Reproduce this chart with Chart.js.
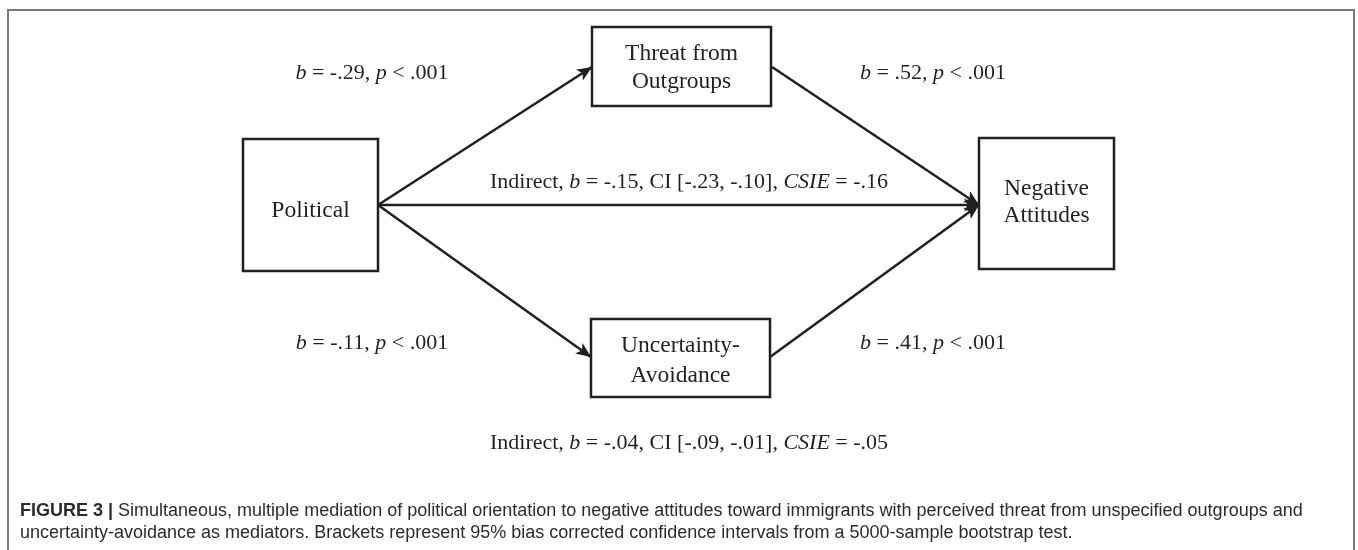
<!DOCTYPE html>
<html>
<head>
<meta charset="utf-8">
<script src="https://cdn.jsdelivr.net/npm/chart.js@4.4.1/dist/chart.umd.min.js"></script>
<style>
  body { margin: 0; background: #fff; }
  #wrap { width: 1358px; height: 550px; }
</style>
</head>
<body>
<div id="wrap"><canvas id="chart"></canvas></div>
<script>
// model values
const nodeNames = [['Political'], ['Threat from', 'Outgroups'], ['Uncertainty-', 'Avoidance'], ['Negative', 'Attitudes']];
const pathFrom = [0, 1, 0, 2, 0];
const pathTo = [1, 3, 2, 3, 3];
const pathB = [-0.29, 0.52, -0.11, 0.41];
const pathP = [0.001, 0.001, 0.001, 0.001];
const indirectB = [-0.15, -0.04];
const indirectLow = [-0.23, -0.09];
const indirectHigh = [-0.10, -0.01];
const indirectCSIE = [-0.16, -0.05];

const captionBold = 'FIGURE 3 |';
const captionLines = [
  ' Simultaneous, multiple mediation of political orientation to negative attitudes toward immigrants with perceived threat from unspecified outgroups and',
  'uncertainty-avoidance as mediators. Brackets represent 95% bias corrected confidence intervals from a 5000-sample bootstrap test.'
];

// layout (diagram units = pixels of the picture)
const boxes = [
  { x0: 243, x1: 378, y0: 139, y1: 271, lines: [217] },
  { x0: 592, x1: 771, y0: 27, y1: 106, lines: [60, 88] },
  { x0: 591, x1: 770, y0: 319, y1: 397, lines: [352, 382] },
  { x0: 979, x1: 1114, y0: 138, y1: 269, lines: [195, 222] }
];
const ends = [
  [[378, 205], [592, 67]],
  [[772, 67], [979, 205]],
  [[378, 205], [591, 357]],
  [[770, 357], [979, 205]],
  [[378, 205], [979, 205]]
];
const coefPos = [[372, 79], [933, 79], [372, 349], [933, 349]];
const indirectPos = [[689, 188], [689, 449]];

const ink = '#231f20';

function fmt(v) {
  const s = Math.abs(v).toFixed(2).replace(/^0/, '');
  return (v < 0 ? '-' : '') + s;
}
function fmtP(p) {
  return p.toFixed(3).replace(/^0/, '');
}

const datasets = [];
boxes.forEach((b, i) => {
  datasets.push({
    label: nodeNames[i].join(' '),
    data: [{x: b.x0, y: b.y0}, {x: b.x1, y: b.y0}, {x: b.x1, y: b.y1}, {x: b.x0, y: b.y1}, {x: b.x0, y: b.y0}, {x: b.x1, y: b.y0}],
    borderColor: ink, borderWidth: 2.5, pointRadius: 0, showLine: true, fill: false, tension: 0,
    borderJoinStyle: 'miter'
  });
});
pathFrom.forEach((f, i) => {
  const e = ends[i];
  datasets.push({
    label: 'path' + i,
    arrow: true,
    data: [{x: e[0][0], y: e[0][1]}, {x: e[1][0], y: e[1][1]}],
    borderColor: ink, borderWidth: 2.5, pointRadius: 0, showLine: true, fill: false
  });
});

function drawRich(ctx, parts, cx, y, size) {
  const font = it => (it ? 'italic ' : '') + size + 'px "Liberation Serif", "Times New Roman", serif';
  let w = 0;
  parts.forEach(p => { ctx.font = font(p[1]); w += ctx.measureText(p[0]).width; });
  let x = cx - w / 2;
  ctx.textAlign = 'left';
  ctx.textBaseline = 'alphabetic';
  parts.forEach(p => {
    ctx.font = font(p[1]);
    ctx.fillText(p[0], x, y);
    x += ctx.measureText(p[0]).width;
  });
}

const diagramPlugin = {
  id: 'diagram',
  beforeDraw(chart) {
    const ctx = chart.ctx;
    ctx.save();
    ctx.fillStyle = '#fff';
    ctx.fillRect(0, 0, chart.width, chart.height);
    ctx.strokeStyle = '#7a7a7a';
    ctx.lineWidth = 2;
    ctx.strokeRect(8, 10, 1346, 600);
    ctx.restore();
  },
  afterDatasetsDraw(chart) {
    const ctx = chart.ctx;
    const xs = chart.scales.x, ys = chart.scales.y;
    ctx.save();
    ctx.fillStyle = ink;
    // arrowheads
    chart.data.datasets.forEach((ds, i) => {
      if (!ds.arrow) return;
      const pts = chart.getDatasetMeta(i).data;
      const a = pts[0], b = pts[1];
      const ang = Math.atan2(b.y - a.y, b.x - a.x);
      const len = 15, half = 6.5;
      ctx.beginPath();
      ctx.moveTo(b.x, b.y);
      ctx.lineTo(b.x - len * Math.cos(ang) + half * Math.sin(ang), b.y - len * Math.sin(ang) - half * Math.cos(ang));
      ctx.lineTo(b.x - len * 0.75 * Math.cos(ang), b.y - len * 0.75 * Math.sin(ang));
      ctx.lineTo(b.x - len * Math.cos(ang) - half * Math.sin(ang), b.y - len * Math.sin(ang) + half * Math.cos(ang));
      ctx.closePath();
      ctx.fill();
    });
    // node labels
    ctx.textAlign = 'center';
    ctx.textBaseline = 'alphabetic';
    ctx.font = '23.5px "Liberation Serif", "Times New Roman", serif';
    boxes.forEach((b, i) => {
      const cx = xs.getPixelForValue((b.x0 + b.x1) / 2);
      nodeNames[i].forEach((t, k) => ctx.fillText(t, cx, ys.getPixelForValue(b.lines[k])));
    });
    // path coefficients
    pathB.forEach((v, i) => {
      const parts = [['b', true], [' = ' + fmt(v) + ', ', false], ['p', true], [' < ' + fmtP(pathP[i]), false]];
      drawRich(ctx, parts, xs.getPixelForValue(coefPos[i][0]), ys.getPixelForValue(coefPos[i][1]), 22);
    });
    // indirect effects
    indirectB.forEach((v, i) => {
      const parts = [
        ['Indirect, ', false], ['b', true],
        [' = ' + fmt(v) + ', CI [' + fmt(indirectLow[i]) + ', ' + fmt(indirectHigh[i]) + '], ', false],
        ['CSIE', true], [' = ' + fmt(indirectCSIE[i]), false]
      ];
      drawRich(ctx, parts, xs.getPixelForValue(indirectPos[i][0]), ys.getPixelForValue(indirectPos[i][1]), 22);
    });
    ctx.restore();
  },
  afterDraw(chart) {
    const ctx = chart.ctx;
    ctx.save();
    ctx.fillStyle = '#2b2b2b';
    ctx.textAlign = 'left';
    ctx.textBaseline = 'alphabetic';
    ctx.font = 'bold 18px "Liberation Sans", Arial, sans-serif';
    ctx.fillText(captionBold, 20, 516);
    const bw = ctx.measureText(captionBold).width;
    ctx.font = '18px "Liberation Sans", Arial, sans-serif';
    ctx.fillText(captionLines[0], 20 + bw, 516);
    ctx.fillText(captionLines[1], 20, 538);
    ctx.restore();
  }
};

new Chart(document.getElementById('chart'), {
  type: 'scatter',
  data: { datasets: datasets },
  options: {
    responsive: true,
    maintainAspectRatio: false,
    animation: false,
    layout: { padding: 0 },
    plugins: { legend: { display: false }, tooltip: { enabled: false } },
    scales: {
      x: { type: 'linear', min: 0, max: 1358, display: false },
      y: { type: 'linear', min: 0, max: 550, reverse: true, display: false }
    },
    elements: { line: { borderCapStyle: 'butt' } }
  },
  plugins: [diagramPlugin]
});
</script>
</body>
</html>
